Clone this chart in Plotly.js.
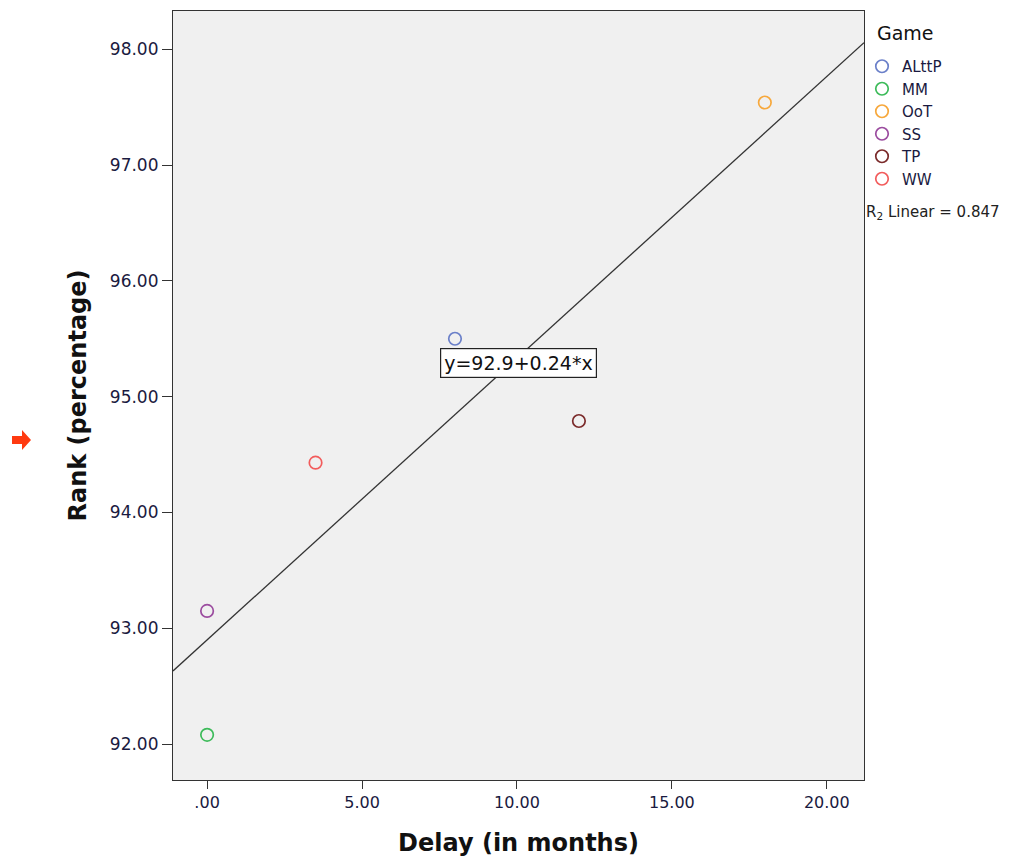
<!DOCTYPE html>
<html>
<head>
<meta charset="utf-8">
<script src="https://cdn.plot.ly/plotly-3.0.1.min.js"></script>
<style>html,body{margin:0;padding:0;background:#fff;}#chart{width:1034px;height:861px;}</style>
</head>
<body>
<div id="chart"></div>
<script>
const games = ["ALttP", "MM", "OoT", "SS", "TP", "WW"];
const delayMonths = [8, 0, 18, 0, 12, 3.5];
const rankPct = [95.5, 92.08, 97.54, 93.15, 94.79, 94.43];
const gameColors = ["#6b80c9", "#3dbb5a", "#f7a83c", "#9b4c9f", "#7b2b2b", "#f25c5c"];
const xTickVals = [0, 5, 10, 15, 20];
const xTickText = [".00", "5.00", "10.00", "15.00", "20.00"];
const yTickVals = [92, 93, 94, 95, 96, 97, 98];
const xRange = [-1.1, 21.2];
const yRange = [91.69, 98.33];

// least squares fit
const n = delayMonths.length;
const mx = delayMonths.reduce((a, b) => a + b, 0) / n;
const my = rankPct.reduce((a, b) => a + b, 0) / n;
let sxy = 0, sxx = 0, syy = 0;
for (let i = 0; i < n; i++) {
  sxy += (delayMonths[i] - mx) * (rankPct[i] - my);
  sxx += (delayMonths[i] - mx) ** 2;
  syy += (rankPct[i] - my) ** 2;
}
const slope = sxy / sxx;
const intercept = my - slope * mx;
const r2 = (sxy * sxy) / (sxx * syy);

const traces = games.map((g, i) => ({
  type: "scatter", mode: "markers", name: g,
  x: [delayMonths[i]], y: [rankPct[i]],
  marker: {symbol: "circle-open", size: 12.5, color: gameColors[i], line: {width: 1.7, color: gameColors[i]}},
  hoverinfo: "x+y+name"
}));
traces.push({
  type: "scatter", mode: "lines", showlegend: false,
  x: xRange, y: xRange.map(v => intercept + slope * v),
  line: {color: "#333", width: 1.3}, hoverinfo: "skip"
});

const M = {l: 173, r: 170, t: 11, b: 81};
const W = 1034, H = 861;
const plotW = W - M.l - M.r, plotH = H - M.t - M.b;
const px = v => (v - M.l) / plotW;          // pixel x -> paper x
const py = v => (H - M.b - v) / plotH;      // pixel y -> paper y

const font = "DejaVu Sans, Verdana, sans-serif";
const arrowPath = "M " + px(12) + "," + py(436) + " L " + px(22) + "," + py(436) +
  " L " + px(22) + "," + py(430) + " L " + px(31) + "," + py(440) +
  " L " + px(22) + "," + py(450) + " L " + px(22) + "," + py(444) +
  " L " + px(12) + "," + py(444) + " Z";

const layout = {
  width: W, height: H,
  margin: M,
  paper_bgcolor: "#fff", plot_bgcolor: "#f0f0f0",
  font: {family: font, color: "#1a1a40"},
  showlegend: true,
  legend: {
    x: px(862), y: py(50), xanchor: "left", yanchor: "top",
    font: {size: 15, color: "#1a1a40"},
    bgcolor: "rgba(0,0,0,0)", itemwidth: 30, tracegroupgap: 0
  },
  xaxis: {
    range: xRange, tickvals: xTickVals, ticktext: xTickText,
    showgrid: false, zeroline: false, showline: true, mirror: true,
    linecolor: "#333", linewidth: 1.2, ticks: "outside", ticklen: 8, tickcolor: "#333",
    tickfont: {size: 16, color: "#1a1a40"},
    title: {text: "<b>Delay (in months)</b>", font: {size: 24, color: "#111"}, standoff: 22}
  },
  yaxis: {
    range: yRange, tickvals: yTickVals, tickformat: ".2f",
    showgrid: false, zeroline: false, showline: true, mirror: true,
    linecolor: "#333", linewidth: 1.2, ticks: "outside", ticklen: 10, tickcolor: "#333",
    tickfont: {size: 17, color: "#1a1a40"},
    title: {text: "<b>Rank (percentage)</b>", font: {size: 24, color: "#111"}, standoff: 16}
  },
  annotations: [
    {
      x: 10.06, y: 95.29, xref: "x", yref: "y", showarrow: false,
      text: "y=" + intercept.toFixed(1) + "+" + slope.toFixed(2) + "*x",
      font: {size: 19, color: "#111"}, bgcolor: "#fff", bordercolor: "#222", borderwidth: 1.2, borderpad: 3
    },
    {
      x: px(864), y: py(212), xref: "paper", yref: "paper", xanchor: "left", yanchor: "middle", showarrow: false,
      text: "R<sub>2</sub> Linear = " + r2.toFixed(3), font: {size: 15, color: "#222"}
    },
    {
      x: px(875), y: py(33), xref: "paper", yref: "paper", xanchor: "left", yanchor: "middle", showarrow: false,
      text: "Game", font: {size: 19, color: "#111"}
    }
  ],
  shapes: [
    {type: "path", xref: "paper", yref: "paper", path: arrowPath, fillcolor: "#ff3a10", line: {width: 0}}
  ]
};
Plotly.newPlot("chart", traces, layout, {displayModeBar: false});
</script>
</body>
</html>
